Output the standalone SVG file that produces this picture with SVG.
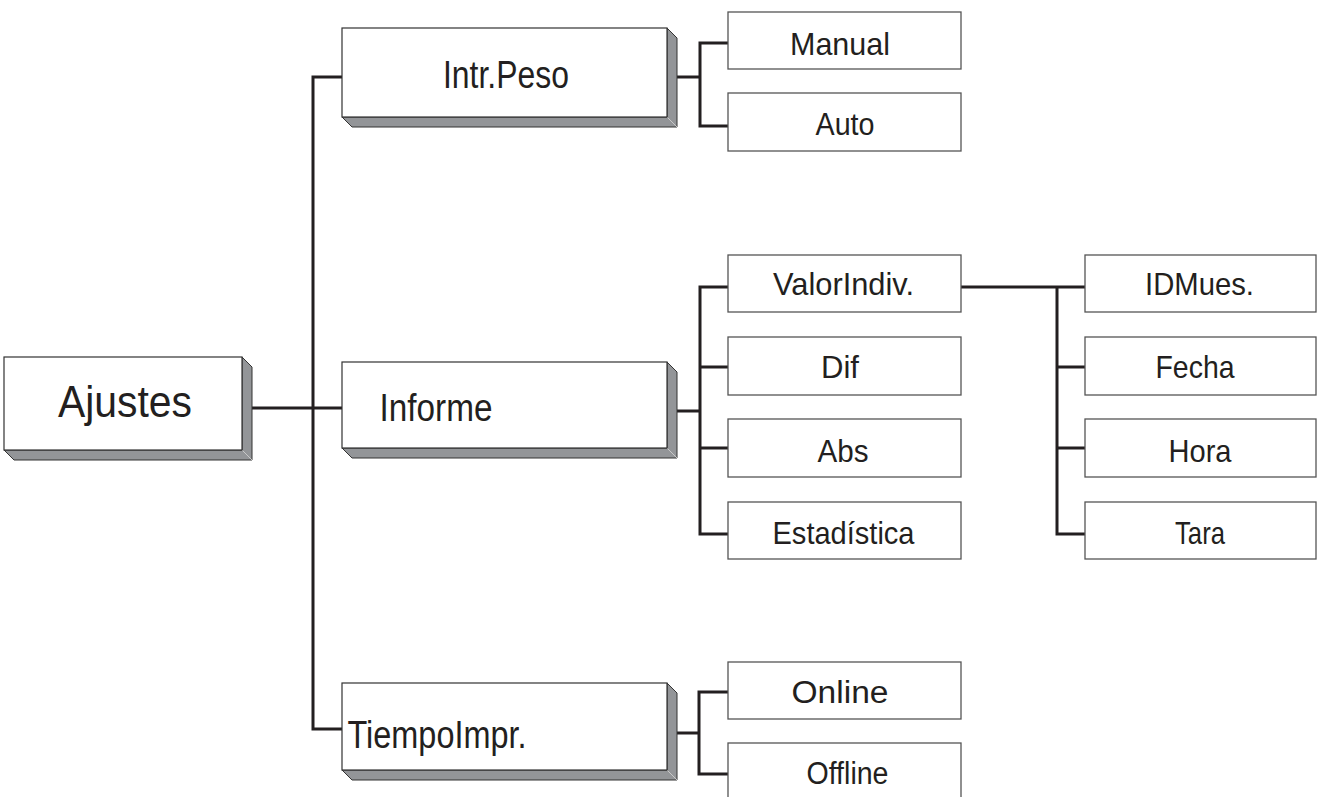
<svg xmlns="http://www.w3.org/2000/svg" width="1317" height="797" viewBox="0 0 1317 797">
<style>
.front{fill:#ffffff;stroke:#333;stroke-width:1.2}
.shade{fill:#939598;stroke:#333;stroke-width:1;stroke-linejoin:miter}
.edge{stroke:#c8c8c8;stroke-width:1;fill:none}
.box{fill:#ffffff;stroke:#555;stroke-width:1.3}
.conn{fill:none;stroke:#231f20;stroke-width:3;stroke-linejoin:miter;stroke-linecap:butt}
text{font-family:"Liberation Sans",Arial,sans-serif;fill:#231f20;text-anchor:middle}
.big{font-size:38px}
.sm{font-size:32px}
</style>
<rect width="1317" height="797" fill="#ffffff"/>
<g id="connectors">
<path class="conn" d="M248,408 H342"/>
<path class="conn" d="M342,77 H313 V729 H342"/>
<path class="conn" d="M672,77 H700"/>
<path class="conn" d="M728,43 H700 V126 H728"/>
<path class="conn" d="M671,411 H700"/>
<path class="conn" d="M728,287 H700 V534 H728"/>
<path class="conn" d="M700,367 H728 M700,448 H728"/>
<path class="conn" d="M961,287 H1085"/>
<path class="conn" d="M1057,287 V534 H1085"/>
<path class="conn" d="M1057,367 H1085 M1057,448 H1085"/>
<path class="conn" d="M671,733 H699"/>
<path class="conn" d="M728,692 H699 V774 H728"/>
</g>
<g id="ajustes">
<polygon class="shade" points="242,357 252,367 252,460 14,460 4,450 242,450"/>
<line class="edge" x1="242" y1="450" x2="252" y2="460"/>
<rect class="front" x="4" y="357" width="238" height="93"/>
<text x="125" y="417" font-size="44" textLength="134" lengthAdjust="spacingAndGlyphs">Ajustes</text>
</g>
<g id="intrpeso">
<polygon class="shade" points="667,28 677,38 677,127 352,127 342,117 667,117"/>
<line class="edge" x1="667" y1="117" x2="677" y2="127"/>
<rect class="front" x="342" y="28" width="325" height="89"/>
<text x="506" y="88" font-size="39" textLength="126" lengthAdjust="spacingAndGlyphs">Intr.Peso</text>
</g>
<g id="informe">
<polygon class="shade" points="667,362 677,372 677,458 352,458 342,448 667,448"/>
<line class="edge" x1="667" y1="448" x2="677" y2="458"/>
<rect class="front" x="342" y="362" width="325" height="86"/>
<text class="big" x="436" y="421" textLength="113" lengthAdjust="spacingAndGlyphs">Informe</text>
</g>
<g id="tiempoimpr">
<polygon class="shade" points="667,683 677,693 677,780 352,780 342,770 667,770"/>
<line class="edge" x1="667" y1="770" x2="677" y2="780"/>
<rect class="front" x="342" y="683" width="325" height="87"/>
<text class="big" x="437" y="748" textLength="179" lengthAdjust="spacingAndGlyphs">TiempoImpr.</text>
</g>
<g id="manual">
<rect class="box" x="728" y="12" width="233" height="57"/>
<text class="sm" x="840" y="55" textLength="100" lengthAdjust="spacingAndGlyphs">Manual</text>
</g>
<g id="auto">
<rect class="box" x="728" y="93" width="233" height="58"/>
<text class="sm" x="845" y="135" textLength="59" lengthAdjust="spacingAndGlyphs">Auto</text>
</g>
<g id="valorindiv">
<rect class="box" x="728" y="255" width="233" height="57"/>
<text class="sm" x="843.5" y="295" textLength="141" lengthAdjust="spacingAndGlyphs">ValorIndiv.</text>
</g>
<g id="dif">
<rect class="box" x="728" y="337" width="233" height="58"/>
<text class="sm" x="840" y="378" textLength="38" lengthAdjust="spacingAndGlyphs">Dif</text>
</g>
<g id="abs">
<rect class="box" x="728" y="419" width="233" height="58"/>
<text class="sm" x="843" y="462" textLength="51" lengthAdjust="spacingAndGlyphs">Abs</text>
</g>
<g id="estadistica">
<rect class="box" x="728" y="502" width="233" height="57"/>
<text class="sm" x="843.5" y="544" textLength="142" lengthAdjust="spacingAndGlyphs">Estadística</text>
</g>
<g id="idmues">
<rect class="box" x="1085" y="255" width="231" height="57"/>
<text class="sm" x="1199.5" y="295" textLength="109" lengthAdjust="spacingAndGlyphs">IDMues.</text>
</g>
<g id="fecha">
<rect class="box" x="1085" y="337" width="231" height="58"/>
<text class="sm" x="1195" y="378" textLength="79" lengthAdjust="spacingAndGlyphs">Fecha</text>
</g>
<g id="hora">
<rect class="box" x="1085" y="419" width="231" height="58"/>
<text class="sm" x="1200" y="462" textLength="63" lengthAdjust="spacingAndGlyphs">Hora</text>
</g>
<g id="tara">
<rect class="box" x="1085" y="502" width="231" height="57"/>
<text class="sm" x="1200" y="544" textLength="50" lengthAdjust="spacingAndGlyphs">Tara</text>
</g>
<g id="online">
<rect class="box" x="728" y="662" width="233" height="57"/>
<text x="840" y="703" font-size="31" textLength="97" lengthAdjust="spacingAndGlyphs">Online</text>
</g>
<g id="offline">
<rect class="box" x="728" y="743" width="233" height="60"/>
<text x="847.5" y="784" font-size="31" textLength="82" lengthAdjust="spacingAndGlyphs">Offline</text>
</g>
</svg>
